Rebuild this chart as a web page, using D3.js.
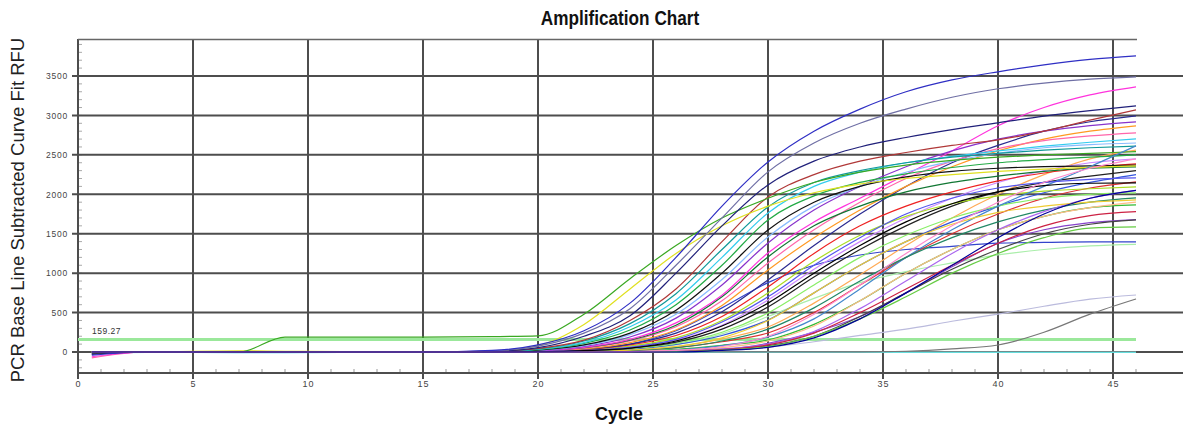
<!DOCTYPE html>
<html><head><meta charset="utf-8">
<script src="https://cdn.jsdelivr.net/npm/d3@7"></script>
<style>body{margin:0;background:#fff}svg{display:block}</style>
</head><body><svg id="c" width="1183" height="429"></svg>
<script>
// ---- data ----
const cycles = [0.6, 3, 7, 9, 15, 18, 20, 22, 24, 26, 28, 30, 32, 34, 36, 38, 40, 42, 44, 46];
const xTicks = [0, 5, 10, 15, 20, 25, 30, 35, 40, 45];
const yTicks = [0, 500, 1000, 1500, 2000, 2500, 3000, 3500];
const threshold = 159.27;
const thresholdLabel = "159.27";

const wellA = [-40,0,0,0,0,20,90,270,620,1200,1850,2410,2800,3080,3300,3450,3553,3640,3710,3756];
const wellB = [-10,0,0,0,0,15,75,240,550,1100,1700,2284,2650,2900,3080,3230,3338,3410,3460,3490];
const wellC = [0,0,0,0,0,10,55,200,460,1000,1600,2119,2420,2600,2720,2820,2906,2990,3060,3122];
const wellD = [0,0,0,190,190,195,205,480,930,1350,1700,1950,2150,2280,2370,2430,2470,2500,2520,2540];
const wellE = [0,0,15,10,0,10,80,350,800,1250,1600,1850,2020,2130,2200,2250,2290,2320,2340,2360];
const wellF = [0,0,0,0,0,10,45,150,400,800,1400,1967,2250,2420,2530,2620,2690,2800,2940,3070];
const wellG = [0,0,0,0,0,8,40,140,360,740,1300,1840,2150,2300,2400,2470,2520,2560,2590,2610];
const wellH = [0,0,-8,-8,0,6,35,120,320,660,1200,1764,2100,2280,2400,2480,2550,2610,2660,2703];
const wellI = [0,0,0,0,0,5,30,110,280,600,1100,1675,1980,2150,2260,2340,2400,2440,2470,2500];
const wellJ = [-20,0,0,0,0,4,25,90,240,530,1000,1548,1900,2100,2220,2290,2330,2350,2360,2370];
const wellK = [0,0,0,0,0,4,22,80,220,480,920,1459,1850,2100,2280,2420,2520,2590,2630,2650];
const wellL = [0,0,0,0,0,3,18,70,190,430,850,1383,1800,2100,2350,2550,2700,2800,2870,2919];
const wellM = [-60,0,0,0,0,2,15,60,160,370,720,1256,1650,1950,2250,2550,2870,3100,3260,3363];
const wellN = [0,0,0,0,0,2,15,55,150,340,700,1206,1600,1850,2030,2150,2230,2290,2330,2348];
const wellO = [-75,0,0,0,0,2,12,50,140,320,650,1129,1550,1900,2200,2420,2580,2680,2740,2779];
const wellP = [0,0,0,0,0,1,10,40,120,280,590,1041,1450,1800,2100,2350,2550,2700,2800,2868];
const wellQ = [-30,0,0,0,0,1,10,35,100,240,510,914,1350,1750,2100,2400,2620,2800,2920,2995];
const wellR = [0,0,0,0,0,0,8,30,90,210,450,825,1250,1600,1850,2030,2170,2270,2340,2386];
const wellS = [0,0,0,0,0,0,6,25,75,180,400,749,1150,1480,1720,1880,1980,2040,2070,2094];
const wellT = [0,0,0,0,0,0,4,20,60,150,340,660,1050,1400,1700,1950,2150,2300,2400,2450];
const wellU = [0,0,0,0,0,0,3,16,50,125,290,571,950,1300,1600,1850,2030,2150,2230,2300];
const wellV = [0,0,0,0,0,0,2,12,45,110,250,495,850,1200,1480,1700,1850,1950,2000,2018];
const wellW = [0,0,0,0,0,0,2,10,35,95,210,406,750,1100,1400,1650,1850,2020,2150,2250];
const wellX = [0,0,0,0,0,0,0,6,25,70,165,317,620,980,1350,1700,2000,2250,2450,2560];
const wellY = [0,0,0,0,0,0,0,5,18,55,130,241,500,850,1200,1500,1750,1950,2080,2157];
const wellZ = [0,0,0,0,0,0,0,3,12,35,85,152,350,650,1000,1300,1550,1720,1830,1865];
const wellAA = [0,0,0,0,0,0,0,0,5,15,35,80,200,450,750,1050,1300,1500,1620,1675];
const wellAB = [0,0,0,0,0,0,0,0,0,10,30,110,250,450,750,1080,1380,1550,1640,1680];
const wellAC = [0,0,0,0,0,0,5,30,100,270,560,880,1100,1230,1300,1340,1380,1390,1396,1396];
const wellAD = [0,0,0,0,0,0,0,5,25,90,230,450,680,880,1020,1130,1231,1300,1345,1365];
const wellAE = [0,0,0,0,0,0,0,0,0,5,20,60,130,210,290,390,480,580,670,723];
const wellAF = [0,0,0,0,0,0,0,0,0,0,0,0,0,0,10,40,89,250,480,673];
const wellAG = [-10,-5,-5,-5,-5,-5,-5,-5,-5,-5,-5,-5,-5,-5,-5,-5,-5,-5,-5,-5];
const wellAH = [0,0,0,0,0,0,0,0,0,0,0,0,0,0,0,0,0,0,0,0];
const wellAI = [0,0,0,0,0,0,0,0,5,25,80,190,420,800,1200,1550,1850,2100,2350,2614];
const wellAJ = [0,0,0,0,0,0,0,0,5,20,55,140,330,650,1000,1300,1550,1720,1830,1900];
const wellAK = [0,0,0,0,0,0,0,5,20,55,140,290,560,900,1200,1450,1650,1800,1900,1954];
const wellAL = [0,0,0,0,0,0,0,0,0,10,40,100,260,550,900,1250,1550,1780,1950,2050];
const wellAM = [0,0,0,0,0,0,0,0,0,8,30,90,240,500,800,1100,1380,1600,1730,1780];
const wellAN = [0,0,0,0,0,0,0,0,0,5,25,70,200,420,700,1000,1250,1450,1570,1586];
const wellAO = [0,0,0,0,0,0,0,5,25,70,180,400,750,1100,1400,1620,1770,1850,1900,1930];
const wellAP = [0,0,0,0,0,0,5,20,60,160,380,700,1100,1450,1750,1950,2080,2150,2190,2208];
const wellAQ = [0,0,0,0,0,0,4,18,50,140,330,620,1000,1350,1650,1880,2030,2110,2140,2145];
const wellAR = [0,0,0,0,0,0,0,0,5,20,70,200,480,850,1250,1600,1900,2150,2330,2450];
const wellAS = [0,0,0,0,0,0,0,0,0,0,20,60,180,420,750,1100,1450,1750,1950,2050];

const wells = [wellAH, wellAG, wellAF, wellAE, wellAD, wellAC, wellAB, wellAA, wellZ, wellY, wellX, wellW, wellV, wellU, wellT, wellS, wellR, wellQ, wellP, wellO, wellN, wellM, wellL, wellK, wellJ, wellI, wellH, wellG, wellF, wellE, wellD, wellC, wellB, wellA, wellAI, wellAJ, wellAK, wellAL, wellAM, wellAN, wellAO, wellAP, wellAQ, wellAR, wellAS];
const wellColors = ["#999999","#66dddd","#777777","#bbbbdd","#aaeeaa","#3344cc","#8844cc","#444444","#33bb33","#dd3333","#ffaa55","#3355dd","#88ee66","#222222","#cc88ff","#aadd22","#ee2222","#2a2a90","#ff9922","#ff66aa","#117733","#ff33dd","#8833cc","#88bbff","#111111","#22aa44","#33ccee","#119999","#b03838","#e0e020","#3aa822","#20207a","#6f6fa5","#2f2fc4","#4488cc","#ffbb88","#228866","#aa66ee","#cc2244","#66cc44","#eecc33","#5555ee","#000000","#ff88cc","#000099"];

// ---- layout ----
const svg = d3.select("#c");
const x = d3.scaleLinear().domain([0, 46]).range([78, 1136]);
const y = d3.scaleLinear().domain([-266, 3969]).range([373, 39]);
const W = 1183;

// minor ticks
svg.append("g").selectAll("line").data(d3.range(1, 47)).join("line")
  .attr("x1", d => x(d)).attr("x2", d => x(d)).attr("y1", 369).attr("y2", 373)
  .attr("stroke", "#999").attr("stroke-width", 1);
svg.append("g").selectAll("line").data(d3.range(-200, 3901, 100)).join("line")
  .attr("x1", 78).attr("x2", 82).attr("y1", d => y(d)).attr("y2", d => y(d))
  .attr("stroke", "#aaa").attr("stroke-width", 1);

// gridlines
svg.append("g").selectAll("line").data(yTicks).join("line")
  .attr("x1", 72).attr("x2", W).attr("y1", d => y(d)).attr("y2", d => y(d))
  .attr("stroke", "#4d4d4d").attr("stroke-width", 2);
svg.append("g").selectAll("line").data(xTicks).join("line")
  .attr("x1", d => x(d)).attr("x2", d => x(d)).attr("y1", 39).attr("y2", 379)
  .attr("stroke", "#4d4d4d").attr("stroke-width", 2);
// frame
svg.append("line").attr("x1", 78).attr("x2", 1137).attr("y1", 39.5).attr("y2", 39.5)
  .attr("stroke", "#666").attr("stroke-width", 1.5);
svg.append("line").attr("x1", 78).attr("x2", W).attr("y1", y(-266)).attr("y2", y(-266))
  .attr("stroke", "#4d4d4d").attr("stroke-width", 2);

// axes labels via d3 axes
const yAxis = d3.axisLeft(y).tickValues(yTicks).tickSize(0).tickPadding(10).tickFormat(d3.format("d"));
const gy = svg.append("g").attr("transform", "translate(78,0)").call(yAxis);
gy.select(".domain").remove();
gy.selectAll("text").attr("font-family", "Liberation Sans, Arial, sans-serif").attr("font-size", 8.5)
  .attr("letter-spacing", 0.8).attr("fill", "#444");
const xAxis = d3.axisBottom(x).tickValues(xTicks).tickSize(0).tickPadding(8);
const gx = svg.append("g").attr("transform", "translate(0,373)").call(xAxis);
gx.select(".domain").remove();
gx.selectAll("text").attr("font-family", "Liberation Sans, Arial, sans-serif").attr("font-size", 9)
  .attr("letter-spacing", 1).attr("fill", "#444");

// threshold
svg.append("line").attr("x1", x(0)).attr("x2", x(46)).attr("y1", y(threshold)).attr("y2", y(threshold))
  .attr("stroke", "#9be89b").attr("stroke-width", 3);
svg.append("text").attr("x", 92).attr("y", y(threshold) - 5).text(thresholdLabel)
  .attr("font-family", "Liberation Sans, Arial, sans-serif").attr("font-size", 8.5).attr("letter-spacing", 0.5).attr("fill", "#333");

// curves
const line = d3.line().x((d, i) => x(cycles[i])).y(d => y(d)).curve(d3.curveMonotoneX);
svg.append("g").selectAll("path").data(wells).join("path")
  .attr("d", d => line(d)).attr("fill", "none")
  .attr("stroke", (d, i) => wellColors[i]).attr("stroke-width", 1.2);

// titles
svg.append("text").attr("transform", "translate(620,25) scale(0.86,1)").attr("text-anchor", "middle")
  .attr("font-family", "Liberation Sans, Arial, sans-serif").attr("font-weight", "bold").attr("font-size", 20)
  .attr("fill", "#111").text("Amplification Chart");
svg.append("text").attr("x", 619).attr("y", 420).attr("text-anchor", "middle")
  .attr("font-family", "Liberation Sans, Arial, sans-serif").attr("font-weight", "bold").attr("font-size", 18)
  .attr("fill", "#111").text("Cycle");
svg.append("text").attr("transform", "translate(24,210) rotate(-90)").attr("text-anchor", "middle")
  .attr("font-family", "Liberation Sans, Arial, sans-serif").attr("font-size", 18.5)
  .attr("fill", "#222").text("PCR Base Line Subtracted Curve Fit RFU");
</script></body></html>
